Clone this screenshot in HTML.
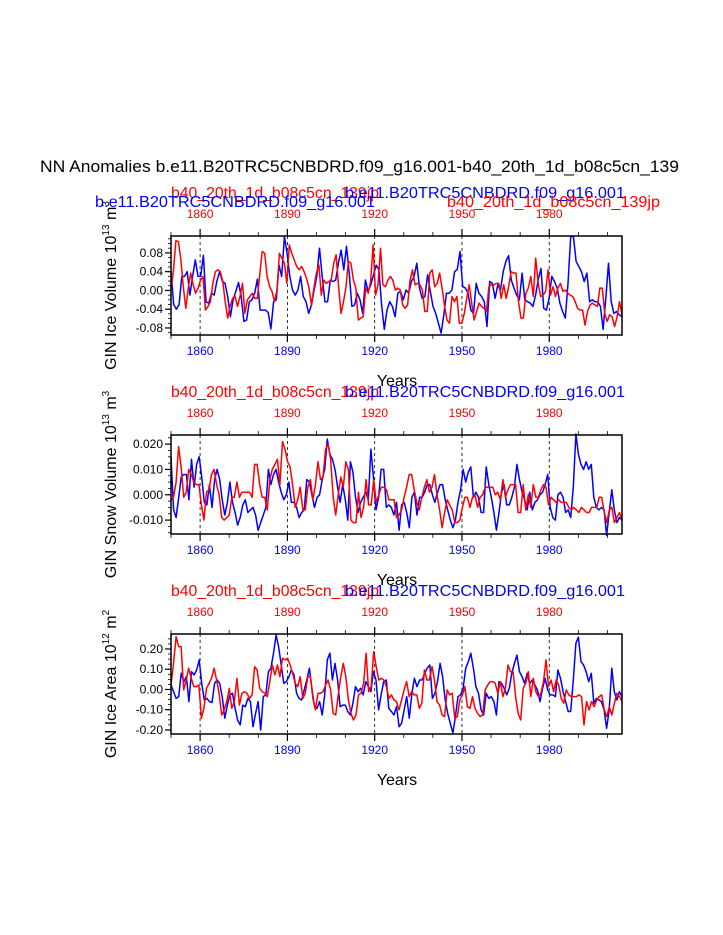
<!DOCTYPE html>
<html><head><meta charset="utf-8"><style>
html,body{margin:0;padding:0;background:#fff;}
svg{display:block;font-family:"Liberation Sans",Arial,sans-serif;}
</style></head><body>
<svg id="chart" width="723" height="935" viewBox="0 0 723 935" xmlns="http://www.w3.org/2000/svg">
<text x="40" y="172" font-size="17" fill="#000" textLength="639" lengthAdjust="spacingAndGlyphs">NN Anomalies b.e11.B20TRC5CNBDRD.f09_g16.001-b40_20th_1d_b08c5cn_139</text>
</svg>
<script>
// ---- data ----
const firstYear = 1850;
const lastYear = 2005;
const labelYears = [1860, 1890, 1920, 1950, 1980];
const iceVolTicks = [0.08, 0.04, 0.00, -0.04, -0.08];
const iceVolTickLabels = ["0.08", "0.04", "0.00", "-0.04", "-0.08"];
const snowVolTicks = [0.020, 0.010, 0.000, -0.010];
const snowVolTickLabels = ["0.020", "0.010", "0.000", "-0.010"];
const iceAreaTicks = [0.20, 0.10, 0.00, -0.10, -0.20];
const iceAreaTickLabels = ["0.20", "0.10", "0.00", "-0.10", "-0.20"];

const iceVolBlue = [0.04,-0.03,-0.04,-0.03,0.03,0.03,0.04,-0.01,0.03,0.065,0.03,0.03,0.075,-0.025,-0.027,-0.006,-0.01,0.02,0.04,0.02,0.015,-0.013,-0.056,-0.02,-0.002,0.017,-0.013,-0.066,-0.063,-0.024,-0.02,-0.006,0.024,-0.042,-0.042,-0.042,-0.047,-0.082,-0.024,-0.02,0.054,0.03,0.115,0.079,0.03,0.001,-0.01,0.001,0.03,-0.013,-0.024,-0.049,-0.031,0.001,0.03,0.09,0.03,-0.024,-0.024,0.022,0.019,0.022,0.058,0.086,0.044,0.094,0.037,-0.034,-0.031,-0.006,-0.02,-0.049,0.022,-0.002,0.012,0.033,0.054,0.044,
-0.031,-0.083,-0.042,-0.024,-0.034,-0.056,-0.006,-0.002,-0.02,0.001,-0.006,0.019,0.03,0.058,0.005,-0.017,-0.013,0.033,-0.002,-0.034,-0.049,-0.07,-0.091,-0.052,-0.006,-0.006,0.001,0.04,0.045,0.083,0.008,0.005,-0.006,-0.042,-0.049,0.015,-0.006,-0.013,-0.024,-0.077,0.019,0.015,-0.017,0.012,0.001,0.04,0.062,0.074,0.022,0.005,-0.01,-0.02,0.037,-0.02,-0.024,-0.027,-0.034,-0.01,0.024,0.047,-0.038,-0.042,-0.017,0.03,0.019,0.005,-0.027,-0.045,-0.059,0.015,0.115,0.115,0.062,0.051,0.04,0.019,0.037,-0.024,-0.02,-0.024,-0.024,-0.034,-0.083,-0.017,0.058,-0.024,-0.049,-0.045,-0.052,-0.056];
const iceVolRed = [0.001,0.044,0.106,0.104,0.065,0.008,-0.038,0.005,0.037,0.012,-0.006,0.005,0.022,0.03,-0.042,-0.034,-0.024,0.015,0.04,0.044,0.04,0.019,-0.024,-0.059,-0.034,-0.017,-0.013,-0.034,-0.013,0.015,-0.049,-0.02,-0.013,-0.006,-0.017,-0.017,0.033,0.083,0.079,0.03,0.008,-0.002,-0.024,0.001,0.079,0.069,0.058,0.015,0.097,0.079,0.065,0.051,0.044,0.051,0.04,0.026,0.005,-0.031,0.005,0.037,0.054,-0.01,0.022,0.015,0.019,0.022,0.058,0.076,0.008,-0.049,-0.024,0.008,0.062,0.058,0.022,0.005,-0.063,-0.059,-0.056,0.005,-0.006,0.019,0.097,-0.01,0.012,0.09,0.012,0.008,0.022,0.03,0.022,0.001,
0.005,0.001,-0.031,-0.038,-0.031,0.022,0.044,0.012,0.015,0.012,0.001,-0.045,-0.045,0.037,0.044,0.008,0.015,0.037,0.005,-0.034,-0.063,-0.07,-0.013,-0.024,-0.013,-0.07,-0.07,-0.049,-0.017,0.012,-0.027,-0.063,-0.045,-0.027,-0.034,-0.038,-0.045,0.008,0.012,0.012,0.015,0.015,-0.017,0.012,-0.017,0.008,0.04,0.037,0.037,-0.024,-0.059,-0.059,-0.006,0.005,0.03,-0.013,0.069,0.015,-0.013,-0.01,-0.002,0.044,-0.01,0.008,-0.013,0.005,0.015,-0.002,0.001,-0.006,-0.01,-0.013,-0.024,-0.038,-0.042,-0.042,-0.074,-0.045,-0.031,-0.027,-0.031,-0.034,0.005,0.005,-0.049,-0.066,-0.052,-0.056,-0.077,-0.056,-0.024,-0.052];

const snowVolBlue = [0.015,-0.006,-0.009,-0.001,0.007,0.008,0.008,-0.002,0.014,0.003,0.012,0.015,0.007,-0.003,-0.004,0.004,-0.005,0.006,0.010,0.006,-0.002,-0.008,-0.003,0.005,-0.003,-0.007,-0.012,-0.009,-0.004,-0.002,-0.007,-0.006,-0.005,-0.008,-0.014,-0.011,-0.008,-0.005,0.010,0.004,0.008,0.010,0.005,0.001,-0.002,0,0.005,-0.003,-0.003,-0.005,-0.009,-0.007,-0.006,0.006,0.005,0,-0.005,-0.001,0,0.006,0.010,0.022,0.016,0.014,0.010,0.003,-0.003,0.004,-0.002,-0.010,0.013,0.009,-0.001,-0.007,-0.003,-0.001,0.001,-0.002,0.018,0.007,-0.006,-0.001,0.010,0.010,-0.005,-0.004,-0.005,-0.008,
-0.003,-0.014,-0.004,-0.003,-0.007,-0.013,-0.001,0.001,-0.008,-0.001,-0.001,0.001,0.004,0.004,0,-0.003,0.001,0.004,0.004,-0.002,-0.006,-0.010,-0.013,-0.010,-0.003,0.002,0.010,0.005,0.009,0.011,-0.001,0.001,-0.001,-0.007,-0.007,0.011,0.004,-0.001,-0.007,-0.014,-0.007,0.001,0.004,-0.004,-0.004,-0.001,0.003,0.012,0.006,0.001,-0.002,-0.006,0.001,-0.006,-0.003,-0.002,0,0.001,0.004,0.008,-0.005,-0.009,-0.010,0,0.001,-0.001,-0.007,-0.006,-0.009,0.003,0.024,0.016,0.012,0.010,0.013,0.010,0.012,-0.001,-0.005,-0.006,-0.005,-0.006,-0.016,-0.007,0.002,-0.006,-0.011,-0.009,-0.010];
const snowVolRed = [-0.002,-0.001,0.005,0.019,0.011,-0.001,0.001,0.010,0.008,0.005,0.004,0.004,-0.004,-0.010,0.001,0.002,0.008,0.010,0.004,0,-0.009,-0.010,-0.009,-0.008,-0.001,-0.001,0.005,-0.001,0.001,0.001,0.001,0.001,-0.001,0.012,0.012,0.004,-0.001,-0.001,-0.006,0.006,0.010,0.012,0.014,0.004,0.021,0.018,0.013,0.011,0.004,-0.005,-0.002,0.003,-0.006,-0.006,0.003,0.006,-0.002,0.004,0.013,0.006,0.007,0.018,0.020,0.014,-0.001,-0.008,0,0.007,0.003,0.013,0.010,-0.010,-0.011,-0.011,0.001,-0.009,-0.005,0.006,-0.004,-0.004,0.006,-0.003,0,0.003,0.003,0.002,-0.002,
-0.002,-0.002,-0.009,-0.008,-0.006,-0.001,0.003,0.008,0.008,0.002,-0.003,-0.006,-0.001,0.003,0.006,0.001,0.003,0.008,0,-0.006,-0.013,-0.007,-0.002,-0.004,-0.006,-0.011,-0.011,-0.010,-0.005,-0.001,-0.001,-0.005,-0.001,0,-0.005,-0.001,0,0.003,0.003,0.003,0.003,0,0.001,-0.002,0.006,-0.001,0.002,0.004,0.004,0.004,-0.007,-0.007,0.004,-0.006,0,-0.005,0.004,-0.001,-0.001,0.002,0.004,0.003,-0.004,-0.001,-0.002,-0.003,-0.002,-0.003,-0.003,-0.003,-0.005,-0.006,-0.005,-0.006,-0.007,-0.005,-0.006,-0.007,-0.007,-0.005,-0.005,-0.005,-0.001,-0.001,-0.007,-0.011,-0.006,-0.005,-0.011,-0.009,-0.007,-0.010];

const iceAreaBlue = [0.022,-0.011,-0.044,-0.035,0.08,0.039,0.063,-0.06,0.088,0.072,0.096,0.146,0.03,-0.052,-0.044,-0.06,-0.065,0.03,0.047,0.03,-0.035,-0.142,-0.077,-0.027,-0.019,-0.093,-0.151,-0.175,-0.077,-0.085,-0.044,-0.06,-0.184,-0.118,-0.06,-0.2,-0.035,-0.027,0.088,0.105,0.179,0.269,0.212,0.121,0.03,0.039,0.063,0.096,0.072,-0.019,-0.044,-0.052,-0.002,0.047,0.105,0.006,-0.085,-0.093,-0.06,-0.126,-0.027,0.146,0.179,0.047,0.129,0.047,-0.085,-0.077,-0.077,-0.109,-0.126,-0.068,0.014,-0.011,0.006,-0.027,0.039,0.014,-0.011,0.088,0.047,-0.101,-0.027,0.039,0.047,-0.093,-0.109,-0.126,
-0.085,-0.184,-0.167,-0.101,-0.035,-0.142,-0.019,0.055,0.014,0.047,0.047,0.08,0.105,0.121,-0.044,-0.019,0.039,0.129,0.063,-0.052,-0.118,-0.167,-0.216,-0.134,-0.035,-0.027,0.006,0.105,0.137,0.179,0.105,0.014,-0.019,-0.101,-0.126,-0.019,-0.044,-0.035,-0.06,-0.126,0.039,0.03,0.006,-0.027,0.006,0.08,0.129,0.17,0.088,0.063,0.03,0.08,0.03,0.047,0.022,-0.002,-0.06,0.006,0.055,-0.002,-0.027,-0.027,-0.035,0.096,0.055,-0.011,-0.06,-0.109,-0.109,0.047,0.228,0.258,0.137,0.121,0.088,0.039,0.08,-0.068,-0.044,-0.052,-0.06,-0.101,-0.192,-0.101,0.105,-0.011,-0.052,-0.011,-0.035];
const iceAreaRed = [0.022,0.129,0.261,0.212,0.212,-0.002,0.047,0.105,0.055,0.014,0.014,0.022,-0.142,-0.093,0.006,0.03,0.055,0.105,0.047,-0.019,-0.126,-0.101,-0.06,0.006,-0.093,-0.06,0.055,-0.077,-0.019,-0.011,-0.019,-0.044,-0.027,0.113,0.096,0.006,-0.011,-0.019,-0.035,0.039,0.121,0.072,0.121,0.063,0.154,0.146,0.154,0.121,0.08,0.03,0.014,0.063,-0.044,-0.019,0.063,0.063,-0.044,-0.101,-0.019,-0.019,-0.011,0.022,0.047,-0.002,-0.118,-0.126,-0.027,0.063,0.129,0.063,-0.052,-0.118,-0.151,-0.126,-0.027,-0.019,0.03,0.179,-0.011,0.014,0.187,0.113,0.047,0.055,0.047,0.014,-0.044,
-0.027,-0.052,-0.06,-0.101,-0.052,-0.002,0.039,-0.035,-0.011,-0.027,-0.027,-0.093,-0.068,0.096,0.047,0.047,0.113,0.047,-0.06,-0.077,-0.126,-0.134,-0.002,-0.027,-0.019,-0.142,-0.134,-0.052,-0.027,0.014,-0.085,-0.093,-0.035,-0.093,-0.118,-0.134,-0.126,-0.002,0.022,0.039,0.039,0.03,-0.019,0.039,-0.035,0.006,0.121,0.088,0.088,-0.035,-0.118,-0.151,0.006,0.03,0.088,-0.035,0.055,-0.011,-0.035,-0.019,0.039,0.146,0.014,0.047,-0.011,0.047,0.022,-0.044,-0.068,-0.002,-0.027,-0.035,-0.035,-0.035,-0.027,-0.035,-0.175,-0.06,-0.101,-0.06,-0.085,-0.052,-0.035,-0.027,-0.101,-0.134,-0.085,-0.126,-0.068,-0.019,-0.035,-0.06];

// ---- drawing ----
const NS = "http://www.w3.org/2000/svg";
const svg = document.getElementById("chart");
const X0 = 171, X1 = 622;
function xScale(year){ return X0 + (year - firstYear) / (lastYear - firstYear) * (X1 - X0); }
function mk(tag, attrs, parent){
  const e = document.createElementNS(NS, tag);
  for (const k in attrs) e.setAttribute(k, attrs[k]);
  (parent || svg).appendChild(e);
  return e;
}

function drawPanel(p){
  const g = mk("g", {});
  
  
  const top = p.top, bot = p.top + p.h;
  function yScale(v){ return top + (p.vmax - v) / (p.vmax - p.vmin) * p.h; }

  // subtitles
  const s1 = mk("text", {x: 171, y: p.top - 38, "font-size": 16, fill: "#ff0000", textLength: 208, lengthAdjust: "spacingAndGlyphs"}, g);
  s1.textContent = "b40_20th_1d_b08c5cn_139jp";
  
  
  const s2 = mk("text", {x: p.blueRightX, y: p.top - 38, "font-size": 16, fill: "#0000ff", textLength: 625 - p.blueRightX, lengthAdjust: "spacingAndGlyphs"}, g);
  s2.textContent = "b.e11.B20TRC5CNBDRD.f09_g16.001";
  
  
  if (p.second) {
    s1.setAttribute("y", p.top - 38);
    s2.setAttribute("x", 345); s2.setAttribute("textLength", 280); s2.setAttribute("y", p.top - 38);
    const s3 = mk("text", {x: 95, y: p.top - 29, "font-size": 16, fill: "#0000ff", textLength: 280, lengthAdjust: "spacingAndGlyphs"}, g);
    s3.textContent = "b.e11.B20TRC5CNBDRD.f09_g16.001";
    
    
    const s4 = mk("text", {x: 447, y: p.top - 29, "font-size": 16, fill: "#ff0000", textLength: 213, lengthAdjust: "spacingAndGlyphs"}, g);
    s4.textContent = "b40_20th_1d_b08c5cn_139jp";
    
    
  }

  // gridlines
  labelYears.forEach(yr => {
    const l = mk("line", {x1: xScale(yr), x2: xScale(yr), y1: top, y2: bot, stroke: "#000", "stroke-width": 0.8, "stroke-dasharray": "3,3"}, g);
    
    
  });

  // x ticks (top and bottom) every 10 years
  for (let yr = firstYear; yr <= lastYear; yr += 10) {
    const major = labelYears.indexOf(yr) >= 0;
    const len = major ? 7 : 4;
    const t1 = mk("line", {x1: xScale(yr), x2: xScale(yr), y1: top, y2: top - len, stroke: "#000", "stroke-width": major ? 1.2 : 0.8}, g);
    
    
    const t2 = mk("line", {x1: xScale(yr), x2: xScale(yr), y1: bot, y2: bot + len, stroke: "#000", "stroke-width": major ? 1.2 : 0.8}, g);
    
    
  }
  labelYears.forEach(yr => {
    const a = mk("text", {x: xScale(yr), y: top - 18, "font-size": 12, fill: "#ff0000", "text-anchor": "middle"}, g);
    a.textContent = yr;
    
    
    const b = mk("text", {x: xScale(yr), y: bot + 20, "font-size": 12, fill: "#0000ff", "text-anchor": "middle"}, g);
    b.textContent = yr;
    
    
  });
  const xt = mk("text", {x: 397, y: bot + 51, "font-size": 16, fill: "#000", "text-anchor": "middle"}, g);
  xt.textContent = "Years";
  
  

  // y minor ticks
  for (let v = p.minorStart; v >= p.vmin - 1e-9; v -= p.minor) {
    if (v > p.vmax) continue;
    const m = mk("line", {x1: X0, x2: X0 - 3, y1: yScale(v), y2: yScale(v), stroke: "#000", "stroke-width": 0.8}, g);
    
    
  }
  p.ticks.forEach((v, i) => {
    const t = mk("line", {x1: X0, x2: X0 - 6, y1: yScale(v), y2: yScale(v), stroke: "#000", "stroke-width": 1.2}, g);
    
    
    const lab = mk("text", {x: X0 - 8, y: yScale(v) + 4, "font-size": 12, fill: "#000", "text-anchor": "end"}, g);
    lab.textContent = p.tickLabels[i];
    
    
  });

  // y title
  const cy = top + p.h / 2;
  const yt = mk("text", {x: 116, y: cy, "font-size": 16, fill: "#000", "text-anchor": "middle", transform: "rotate(-90 116 " + cy + ")"}, g);
  
  
  const t0 = mk("tspan", {}, yt); t0.textContent = p.ytitle + " 10";
  const t1 = mk("tspan", {dy: -7, "font-size": 10}, yt); t1.textContent = p.exp;
  const t2 = mk("tspan", {dy: 7}, yt); t2.textContent = " m";
  const t3 = mk("tspan", {dy: -7, "font-size": 10}, yt); t3.textContent = p.unitExp;

  // series
  function line(vals, color, nm){
    const n = vals.length;
    const pts = vals.map((v, i) => {
      const yr = firstYear + i * (lastYear - firstYear) / (n - 1);
      return xScale(yr).toFixed(1) + "," + yScale(v).toFixed(1);
    }).join(" ");
    const pl = mk("polyline", {points: pts, fill: "none", stroke: color, "stroke-width": 1.5, "stroke-linejoin": "round"}, g);
    
    
  }
  line(p.blue, "#0000ff", "blue-series-line");
  line(p.red, "#ff0000", "red-series-line");

  // frame
  const fr = mk("rect", {x: X0, y: top, width: X1 - X0, height: p.h, fill: "none", stroke: "#000", "stroke-width": 1.5}, g);
  
  
}

drawPanel({name: "ice-volume-panel", top: 236, h: 99, vmax: 0.116, vmin: -0.095, ticks: iceVolTicks, tickLabels: iceVolTickLabels, minor: 0.01, minorStart: 0.11, blue: iceVolBlue, red: iceVolRed, ytitle: "GIN Ice Volume", exp: "13", unitExp: "3", second: true, blueRightX: 345});
drawPanel({name: "snow-volume-panel", top: 435, h: 99, vmax: 0.0236, vmin: -0.0155, ticks: snowVolTicks, tickLabels: snowVolTickLabels, minor: 0.0025, minorStart: 0.0225, blue: snowVolBlue, red: snowVolRed, ytitle: "GIN Snow Volume", exp: "13", unitExp: "3", second: false, blueRightX: 345});
drawPanel({name: "ice-area-panel", top: 634, h: 100, vmax: 0.274, vmin: -0.22, ticks: iceAreaTicks, tickLabels: iceAreaTickLabels, minor: 0.025, minorStart: 0.25, blue: iceAreaBlue, red: iceAreaRed, ytitle: "GIN Ice Area", exp: "12", unitExp: "2", second: false, blueRightX: 345});
</script>
</body></html>
